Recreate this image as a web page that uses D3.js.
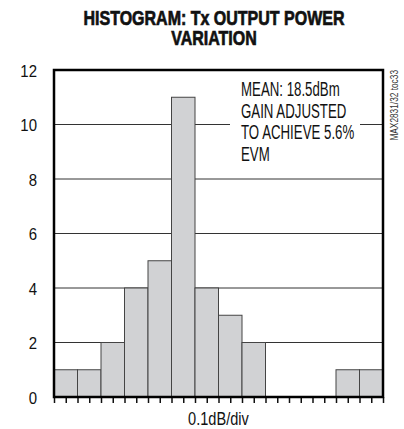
<!DOCTYPE html>
<html>
<head>
<meta charset="utf-8">
<script src="https://cdn.jsdelivr.net/npm/d3@7"></script>
<style>
  body { margin: 0; background: #fff; }
  text { font-family: "Liberation Sans", Arial, sans-serif; fill: #111; }
</style>
</head>
<body>
<div id="myChart"></div>
<script>
// histogram counts per 0.1dB bin
const binCounts = [1, 1, 2, 4, 5, 11, 4, 3, 2, 0, 0, 0, 1, 1];
const yTicks = [0, 2, 4, 6, 8, 10, 12];
const titleLines = ["HISTOGRAM: Tx OUTPUT POWER", "VARIATION"];
const noteLines = ["MEAN: 18.5dBm", "GAIN ADJUSTED", "TO ACHIEVE 5.6%", "EVM"];
const xLabel = "0.1dB/div";
const sideLabel = "MAX2831/32 toc33";

let width = 404;
let height = 429;
let margin = { top: 70, right: 21, bottom: 32, left: 54 };

let svg = d3.select("#myChart").append("svg")
  .attr("width", width)
  .attr("height", height);

let x = d3.scaleLinear()
  .domain([0, binCounts.length])
  .range([margin.left, width - margin.right]);

let y = d3.scaleLinear()
  .domain([0, 12])
  .range([height - margin.bottom, margin.top]);

// squeeze text to mimic the condensed font of the original
function squeeze(sel, k) {
  sel.each(function () {
    let w = this.getComputedTextLength();
    d3.select(this).attr("textLength", w * k).attr("lengthAdjust", "spacingAndGlyphs");
  });
}

// title
svg.append("g")
  .selectAll("text")
  .data(titleLines)
  .enter()
  .append("text")
  .attr("x", 214)
  .attr("y", (d, i) => 25 + i * 20)
  .attr("text-anchor", "middle")
  .attr("font-size", 20)
  .attr("font-weight", "bold")
  .style("stroke", "#111")
  .style("stroke-width", 0.7)
  .text(d => d)
  .call(squeeze, 0.8);

// gridlines
svg.append("g")
  .selectAll("line")
  .data(yTicks.filter(d => d > 0 && d < 12))
  .enter()
  .append("line")
  .attr("x1", x(0))
  .attr("x2", x(binCounts.length))
  .attr("y1", d => y(d))
  .attr("y2", d => y(d))
  .attr("stroke", "#333")
  .attr("stroke-width", 1);

// white box behind the note so gridlines break around it
svg.append("rect")
  .attr("x", 230)
  .attr("y", 78)
  .attr("width", 130)
  .attr("height", 88)
  .attr("fill", "#fff");

// bars (empty bins skipped, index kept)
let bins = binCounts.map((c, i) => ({ i: i, c: c })).filter(d => d.c > 0);

svg.append("g")
  .selectAll("rect")
  .data(bins)
  .enter()
  .append("rect")
  .attr("x", d => x(d.i))
  .attr("y", d => y(d.c))
  .attr("width", x(1) - x(0))
  .attr("height", d => y(0) - y(d.c))
  .attr("fill", "#d1d2d4")
  .attr("stroke", "#444")
  .attr("stroke-width", 1);

// note text
svg.append("g")
  .selectAll("text")
  .data(noteLines)
  .enter()
  .append("text")
  .attr("x", 241)
  .attr("y", (d, i) => 96 + i * 21.5)
  .attr("font-size", 19.5)
  .text(d => d)
  .call(squeeze, 0.68);

// x ticks (no labels)
let xAxis = d3.axisBottom(x)
  .tickValues(d3.range(0, binCounts.length + 0.01, 0.5))
  .tickSize(6)
  .tickFormat("");

svg.append("g")
  .attr("transform", `translate(0,${y(0)})`)
  .call(xAxis)
  .call(g => g.select(".domain").remove())
  .call(g => g.selectAll("line").attr("stroke", "#111").attr("stroke-width", 1.5));

// y labels
let yAxis = d3.axisLeft(y)
  .tickValues(yTicks)
  .tickSize(0)
  .tickPadding(17);

svg.append("g")
  .attr("transform", `translate(${x(0)},0)`)
  .call(yAxis)
  .call(g => g.select(".domain").remove())
  .call(g => g.selectAll("text")
    .attr("font-size", 17)
    .attr("font-family", null)
    .attr("dy", "0.38em")
    .call(squeeze, 0.88));

// plot frame
svg.append("rect")
  .attr("x", x(0))
  .attr("y", y(12))
  .attr("width", x(binCounts.length) - x(0))
  .attr("height", y(0) - y(12))
  .attr("fill", "none")
  .attr("stroke", "#000")
  .attr("stroke-width", 2.5);

// x label
svg.append("text")
  .attr("x", (x(0) + x(binCounts.length)) / 2)
  .attr("y", 425)
  .attr("text-anchor", "middle")
  .attr("font-size", 18)
  .text(xLabel)
  .call(squeeze, 0.81);

// side label
svg.append("text")
  .attr("transform", "translate(398,70) rotate(-90)")
  .attr("text-anchor", "end")
  .attr("font-size", 10)
  .style("fill", "#333")
  .text(sideLabel)
  .call(squeeze, 0.83);
</script>
</body>
</html>
